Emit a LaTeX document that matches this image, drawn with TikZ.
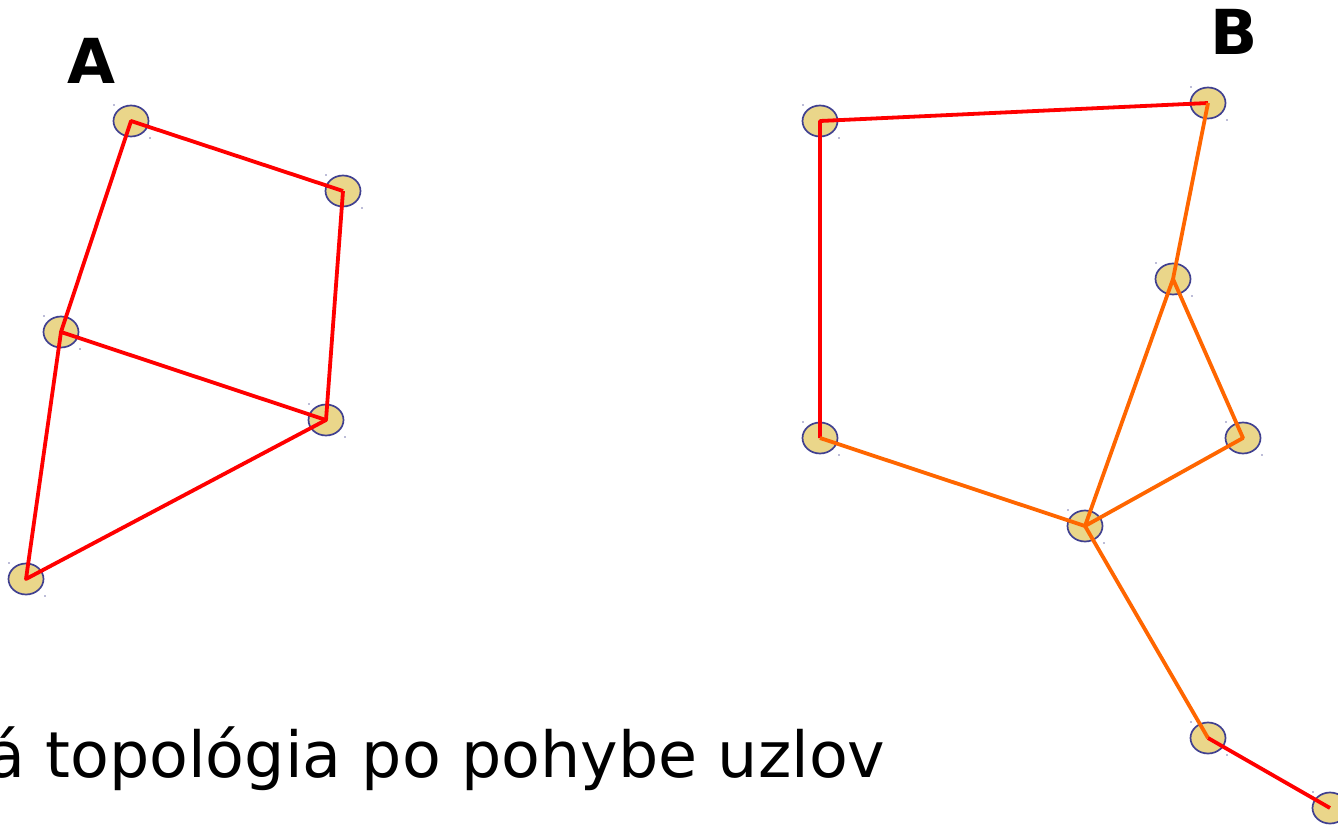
\documentclass[tikz,border=0pt]{standalone}
\usepackage{fontspec}
\setmainfont{DejaVu Sans}
\definecolor{nodefill}{RGB}{234,214,138}
\definecolor{nodeline}{RGB}{64,64,144}
\definecolor{edgered}{RGB}{255,0,0}
\definecolor{edgeorange}{RGB}{255,102,0}
\tikzset{
  host/.style={ellipse, draw=nodeline, fill=nodefill, line width=1.7pt, minimum width=35pt, minimum height=31pt, inner sep=0pt},
  redlink/.style={draw=edgered, line width=3.8pt, line join=round},
  orlink/.style={draw=edgeorange, line width=3.8pt, line join=round},
  handle/.style={fill=nodeline!70, draw=none},
  biglabel/.style={font=\fontsize{62}{70}\selectfont\bfseries, inner sep=0pt, anchor=base},
  caption/.style={font=\fontsize{63.5}{70}\selectfont, inner sep=0pt, anchor=base west}
}
\usetikzlibrary{shapes.geometric}
\begin{document}
\begin{tikzpicture}[x=1pt,y=-1pt]
\useasboundingbox (0,0) rectangle (1338,827);
% nodes
\foreach \n/\x/\y in {a1/131/121, a2/343/191, a3/61/332, a4/326/420, a5/26/579,
  b1/820/121, b2/1208/103, b3/1173/279, b4/820/438, b5/1243/438, b6/1085/526, b7/1208/738, b8/1330/808}{
  \node[host] (\n) at (\x,\y) {};
  \fill[handle] (\x-17,\y-16) circle (0.9pt);
  \fill[handle] (\x+19,\y+17) circle (0.9pt);
}
% graph A links
\draw[redlink] (a2.center) -- (a1.center) -- (a3.center) -- (a5.center) -- (a4.center) -- (a2.center);
\draw[redlink] (a3.center) -- (a4.center);
% graph B links
\draw[redlink] (b4.center) -- (b1.center) -- (b2.center);
\draw[orlink] (b2.center) -- (b3.center) -- (b5.center) -- (b6.center) -- (b3.center);
\draw[orlink] (b4.center) -- (b6.center) -- (b7.center);
\draw[redlink] (b7.center) -- (b8.center);
% labels
\node[biglabel] (la) at (91,83) {A};
\node[biglabel] (lb) at (1234,54) {B};
\node[caption] (cap) at (-14,777) {á topológia po pohybe uzlov};
\end{tikzpicture}
\end{document}
